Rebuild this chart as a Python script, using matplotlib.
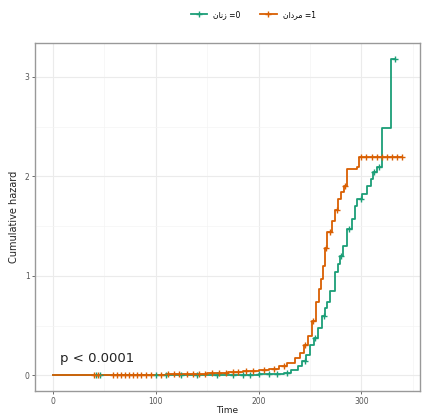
import matplotlib
matplotlib.use("Agg")
import matplotlib.pyplot as plt
from matplotlib.lines import Line2D
import numpy as np

# Datos: tiempo y riesgo acumulado (escalones)
t_hombres = [0, 60, 110, 150, 170, 185, 200, 210, 220, 228, 235, 240, 244, 248, 252,
             256, 259, 261, 263, 265, 267, 271, 274, 277, 280, 283, 286, 296, 298, 340]
h_hombres = [0, 0.005, 0.01, 0.02, 0.03, 0.045, 0.055, 0.065, 0.09, 0.12, 0.17, 0.22, 0.30,
             0.40, 0.55, 0.74, 0.87, 0.97, 1.10, 1.28, 1.44, 1.55, 1.66, 1.77, 1.84, 1.90,
             2.07, 2.09, 2.19, 2.19]
cens_hombres = [40, 44, 58, 62, 66, 70, 74, 78, 82, 86, 90, 95, 105, 112, 118, 123, 130,
                136, 142, 148, 155, 162, 168, 175, 180, 188, 195, 205, 215, 225, 245, 253,
                266, 270, 276, 284, 300, 305, 310, 315, 320, 325, 330, 335, 340]

t_mujeres = [0, 130, 200, 225, 232, 238, 242, 246, 250, 254, 258, 262, 265, 267, 270,
             274, 277, 279, 282, 286, 291, 294, 296, 301, 306, 309, 311, 315, 320, 329, 333]
h_mujeres = [0, 0.005, 0.01, 0.02, 0.05, 0.09, 0.14, 0.20, 0.30, 0.38, 0.48, 0.60, 0.68,
             0.74, 0.85, 1.04, 1.12, 1.20, 1.30, 1.47, 1.57, 1.70, 1.77, 1.82, 1.90, 1.97,
             2.04, 2.09, 2.49, 3.18, 3.18]
cens_mujeres = [42, 46, 100, 110, 125, 140, 160, 175, 185, 192, 200, 210, 218, 228, 245,
                255, 264, 280, 288, 300, 312, 317, 333]

# Etiquetas (formas de presentación árabes en orden visual)
etiquetas = ["\uFEE5\uFE8E\uFEE7\uFEAF =0", "\uFEE5\uFE8D\uFEA9\uFEAE\uFEE3 =1"]
colores = ["#1B9E77", "#D95F02"]


def valor_en(t, tiempos, valores):
    idx = np.searchsorted(tiempos, t, side="right") - 1
    return np.asarray(valores)[idx]


fig = plt.figure(figsize=(4.22, 4.18), dpi=100)
ax = fig.add_axes([0.083, 0.064, 0.912, 0.833])

grupos = [(t_mujeres, h_mujeres, cens_mujeres), (t_hombres, h_hombres, cens_hombres)]
for (tt, hh, cc), col in zip(grupos, colores):
    ax.step(tt, hh, where="post", color=col, lw=1.3, zorder=3)
    ax.plot(cc, valor_en(cc, tt, hh), ls="none", marker="+", ms=5, mew=1.0,
            color=col, zorder=4)

ax.set_xlim(-17.5, 357)
ax.set_ylim(-0.16, 3.34)
ax.set_xticks([0, 100, 200, 300])
ax.set_yticks([0, 1, 2, 3])
ax.set_xticks([50, 150, 250, 350], minor=True)
ax.set_yticks([0.5, 1.5, 2.5], minor=True)
ax.grid(True, which="major", color="#EBEBEB", lw=0.8)
ax.grid(True, which="minor", color="#F4F4F4", lw=0.5)
ax.set_axisbelow(True)
for s in ax.spines.values():
    s.set_color("#999999")
    s.set_linewidth(1.0)
ax.tick_params(which="major", labelsize=5.5, colors="#555555", length=2.5, width=0.6, pad=1.5)
ax.tick_params(which="minor", length=0)
ax.set_xlabel("Time", fontsize=6.5, color="#222222", labelpad=0)
ax.set_ylabel("Cumulative hazard", fontsize=7, color="#222222", labelpad=4)

ax.text(7, 0.1, "p < 0.0001", fontsize=9.5, color="#222222", ha="left", va="bottom")

handles = [Line2D([0], [0], color=c, lw=1.3, marker="+", ms=5, mew=1.0) for c in colores]
fig.legend(handles, etiquetas, loc="center", bbox_to_anchor=(0.6, 0.965), ncol=2,
           frameon=False, handlelength=2.2, columnspacing=2.5,
           prop={"family": "DejaVu Sans", "size": 5.5})

fig.savefig("out.png", dpi=100)
